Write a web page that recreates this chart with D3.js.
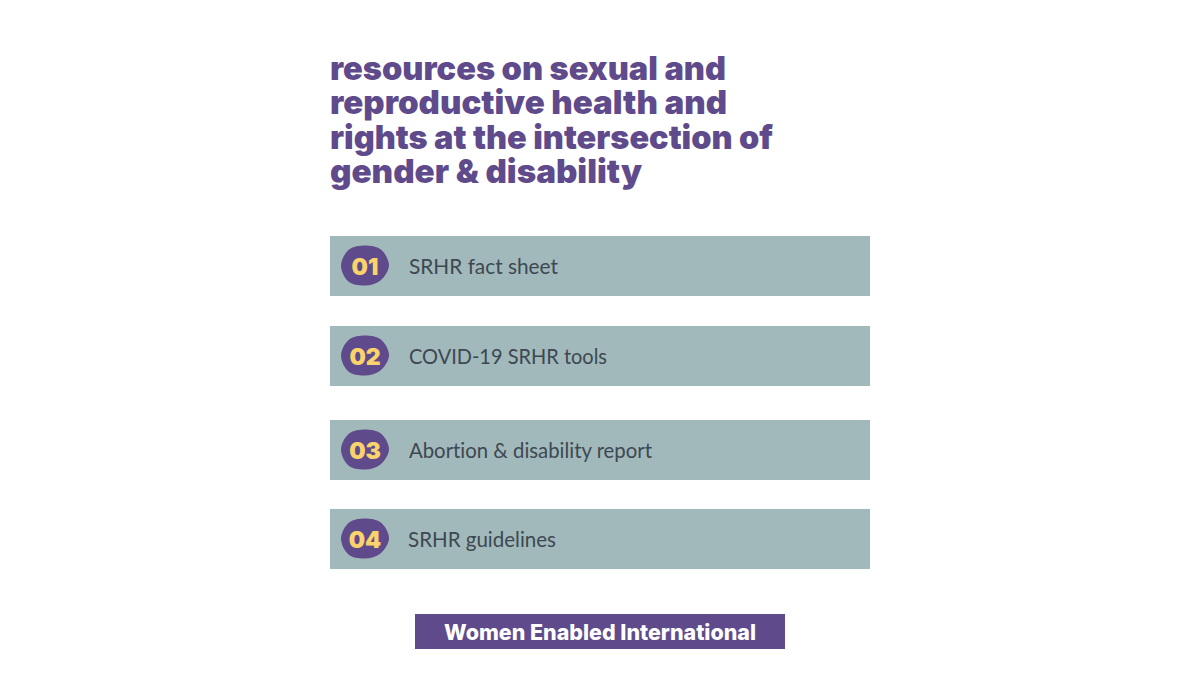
<!DOCTYPE html>
<html>
<head>
<meta charset="utf-8">
<script src="https://cdn.jsdelivr.net/npm/d3@7"></script>
<style>
	html, body { margin: 0; padding: 0; background: #fff; }
	svg { display: block; }
	text { font-variant-ligatures: none; }
</style>
</head>
<body>
<div id="vis_container"></div>
<script>
// Text.
var title_lines = [
	"resources on sexual and",
	"reproductive health and",
	"rights at the intersection of",
	"gender & disability"
];
var numbers = ["01", "02", "03", "04"];
var items = ["SRHR fact sheet", "COVID-19 SRHR tools", "Abortion & disability report", "SRHR guidelines"];
var footer = "Women Enabled International";

var width = 1200;
var height = 675;
var purple = "#5f4b8b";
var teal = "#a2b9bb";
var yellow = "#fbd36b";
var ink = "#3d4852";

// The rows are not evenly spaced in the original, so the scale lists each top.
var row_y = d3.scaleOrdinal().domain(numbers).range([236, 326, 420, 509]);
var label_x = d3.scaleOrdinal().domain(numbers).range([409, 409, 409, 408]);
var title_y = d3.scalePoint().domain(title_lines).range([80, 183]);

var svg = d3.select("#vis_container")
	.append("svg")
	.attr("width", width)
	.attr("height", height);

svg.append("rect")
	.attr("width", width)
	.attr("height", height)
	.attr("fill", "#fff");

// Title is one text element, each line fitted to its width in the picture.
var title_widths = [396, 397, 443, 312];
svg.append("text")
	.attr("class", "title")
	.style("font-family", "Inter, sans-serif")
	.style("font-weight", 900)
	.style("font-size", "33px")
	.style("fill", purple)
	.selectAll("tspan").data(title_lines).enter().append("tspan")
		.attr("x", 330)
		.attr("y", function(d) { return title_y(d); })
		.attr("textLength", function(d, i) { return title_widths[i]; })
		.attr("lengthAdjust", "spacingAndGlyphs")
		.text(function(d) { return d; });

var rows = svg.selectAll(".row").data(numbers).enter().append("g")
	.attr("class", "row")
	.attr("transform", function(d) { return "translate(0," + row_y(d) + ")"; });

rows.append("rect")
	.attr("x", 330)
	.attr("width", 540)
	.attr("height", 60)
	.attr("fill", teal);

// Hand-drawn looking badge behind each number, clockwise from the top.
var blob_r = [20, 22.5, 24, 21.5, 20, 23, 24, 22.5];
var blob = d3.lineRadial()
	.angle(function(d, i) { return i / blob_r.length * 2 * Math.PI; })
	.radius(function(d) { return d; })
	.curve(d3.curveCatmullRomClosed.alpha(0.5));

rows.append("path")
	.attr("transform", "translate(365,29.5)")
	.attr("d", blob(blob_r))
	.attr("fill", purple);

rows.append("text")
	.attr("x", 365)
	.attr("y", 39)
	.attr("text-anchor", "middle")
	.style("font-family", "Inter, sans-serif")
	.style("font-weight", 900)
	.style("font-size", "23px")
	.style("fill", yellow)
	.text(function(d) { return d; });

var item_widths = [149, 198, 243, 148];
rows.append("text")
	.attr("x", function(d) { return label_x(d); })
	.attr("y", 38)
	.attr("textLength", function(d, i) { return item_widths[i]; })
	.attr("lengthAdjust", "spacingAndGlyphs")
	.style("font-family", "Lato, sans-serif")
	.style("font-size", "21px")
	.style("fill", ink)
	.text(function(d, i) { return items[i]; });

// Footer band.
svg.append("rect")
	.attr("x", 415)
	.attr("y", 614)
	.attr("width", 370)
	.attr("height", 35)
	.attr("fill", purple);

svg.append("text")
	.attr("x", 444)
	.attr("y", 640)
	.attr("textLength", 312)
	.attr("lengthAdjust", "spacingAndGlyphs")
	.style("font-family", "Inter, sans-serif")
	.style("font-weight", 800)
	.style("font-size", "22px")
	.style("fill", "#fff")
	.text(footer);
</script>
</body>
</html>
